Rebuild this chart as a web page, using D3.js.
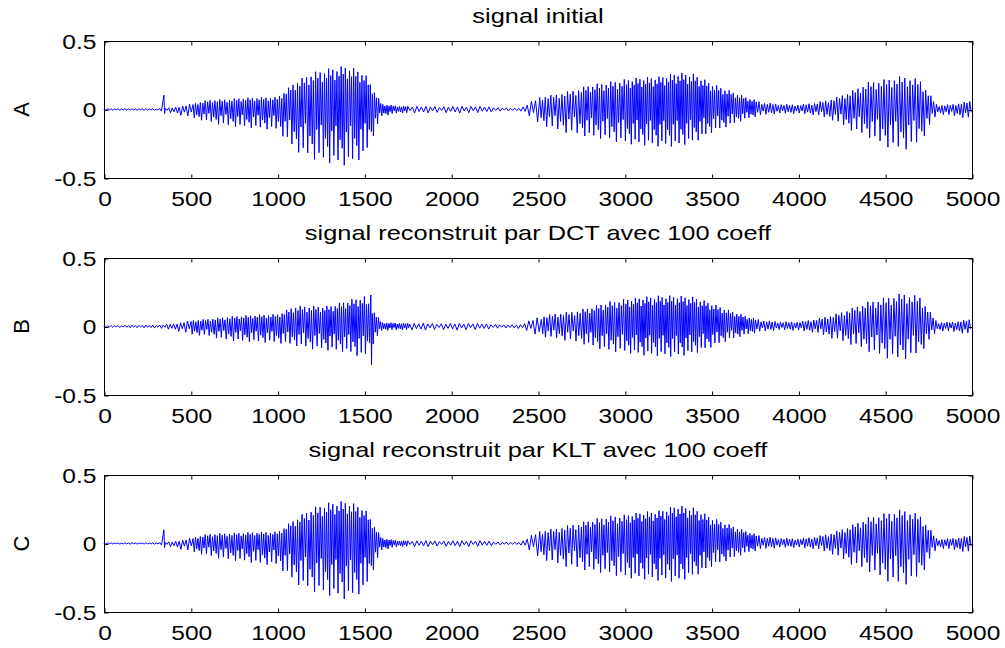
<!DOCTYPE html>
<html>
<head>
<meta charset="utf-8">
<script src="https://cdn.jsdelivr.net/npm/d3@7"></script>
<style>
  body { margin: 0; background: #fff; }
  text { font-family: "Liberation Sans", Arial, sans-serif; fill: #000; }
</style>
</head>
<body>
<div id="chart"></div>
<script>

// envelope of each signal, read every 100 samples (upper / lower extremes)
const sampleKnots = d3.range(0, 5001, 100)

const topA = [0.004, 0.006, 0.006, 0.006, 0.015, 0.04, 0.07, 0.075, 0.085, 0.09, 0.09, 0.2, 0.27, 0.3, 0.32, 0.27, 0.04, 0.025, 0.025, 0.022, 0.022, 0.025, 0.022, 0.012, 0.01, 0.09, 0.11, 0.14, 0.18, 0.2, 0.22, 0.235, 0.24, 0.27, 0.26, 0.19, 0.14, 0.09, 0.05, 0.04, 0.035, 0.05, 0.08, 0.13, 0.2, 0.22, 0.245, 0.22, 0.03, 0.04, 0.065]
const botA = [-0.004, -0.006, -0.006, -0.006, -0.03, -0.06, -0.09, -0.12, -0.13, -0.14, -0.15, -0.3, -0.36, -0.39, -0.41, -0.35, -0.05, -0.025, -0.028, -0.025, -0.025, -0.028, -0.022, -0.012, -0.01, -0.1, -0.15, -0.18, -0.2, -0.22, -0.25, -0.26, -0.27, -0.27, -0.24, -0.17, -0.12, -0.07, -0.04, -0.03, -0.03, -0.04, -0.08, -0.15, -0.2, -0.27, -0.3, -0.25, -0.03, -0.05, -0.07]

const topB = [0.006, 0.008, 0.01, 0.01, 0.02, 0.045, 0.055, 0.07, 0.08, 0.087, 0.09, 0.15, 0.15, 0.15, 0.19, 0.22, 0.03, 0.025, 0.025, 0.022, 0.022, 0.025, 0.02, 0.012, 0.015, 0.07, 0.095, 0.11, 0.14, 0.18, 0.2, 0.215, 0.225, 0.225, 0.215, 0.17, 0.12, 0.075, 0.045, 0.035, 0.035, 0.055, 0.085, 0.13, 0.18, 0.21, 0.245, 0.22, 0.03, 0.035, 0.055]
const botB = [-0.006, -0.008, -0.01, -0.012, -0.025, -0.06, -0.07, -0.1, -0.11, -0.115, -0.12, -0.14, -0.165, -0.175, -0.19, -0.23, -0.03, -0.025, -0.028, -0.025, -0.025, -0.028, -0.02, -0.012, -0.015, -0.07, -0.09, -0.11, -0.14, -0.18, -0.19, -0.21, -0.215, -0.22, -0.2, -0.15, -0.1, -0.06, -0.035, -0.025, -0.03, -0.045, -0.09, -0.13, -0.18, -0.23, -0.245, -0.2, -0.03, -0.04, -0.06]

const topC = [0.004, 0.005, 0.005, 0.005, 0.015, 0.04, 0.07, 0.075, 0.08, 0.085, 0.085, 0.18, 0.26, 0.3, 0.31, 0.26, 0.04, 0.02, 0.022, 0.02, 0.02, 0.022, 0.02, 0.01, 0.01, 0.09, 0.11, 0.14, 0.17, 0.2, 0.21, 0.23, 0.24, 0.28, 0.26, 0.19, 0.14, 0.09, 0.05, 0.04, 0.035, 0.05, 0.08, 0.13, 0.19, 0.22, 0.25, 0.21, 0.03, 0.04, 0.06]
const botC = [-0.004, -0.005, -0.005, -0.005, -0.03, -0.06, -0.09, -0.12, -0.13, -0.15, -0.16, -0.29, -0.35, -0.38, -0.41, -0.35, -0.05, -0.022, -0.025, -0.022, -0.022, -0.025, -0.02, -0.01, -0.01, -0.1, -0.15, -0.18, -0.2, -0.22, -0.25, -0.26, -0.27, -0.28, -0.24, -0.17, -0.12, -0.07, -0.04, -0.03, -0.03, -0.04, -0.08, -0.15, -0.2, -0.27, -0.31, -0.25, -0.03, -0.05, -0.07]

// isolated spikes: [sample, high, low]
const clicksA = [[345, 0.105, -0.03]]
const clicksB = [[1537, 0.23, -0.28]]
const clicksC = [[345, 0.1, -0.03]]

// samples per up/down swing, per 250-sample block
const periodKnots = d3.range(250, 5000, 250)
const cyclePeriods = [20, 20, 14, 13, 13, 12, 12, 26, 26, 24, 16, 13, 11, 11, 12, 16, 16, 15, 15, 16]
const topWeights = [1, 0.82, 0.95, 0.7, 0.9, 0.78]
const bottomWeights = [1, 0.4, 0.85, 0.3, 0.92, 0.55, 0.7]

const panelTitles = ["signal initial", "signal reconstruit par DCT avec 100 coeff", "signal reconstruit par KLT avec 100 coeff"]
const panelLabels = ["A", "B", "C"]
const xTicks = [0, 500, 1000, 1500, 2000, 2500, 3000, 3500, 4000, 4500, 5000]
const yTicks = [-0.5, 0, 0.5]

const panels = [
  { title: panelTitles[0], label: panelLabels[0], tops: topA, bots: botA, clicks: clicksA },
  { title: panelTitles[1], label: panelLabels[1], tops: topB, bots: botB, clicks: clicksB },
  { title: panelTitles[2], label: panelLabels[2], tops: topC, bots: botC, clicks: clicksC },
]

const dimensions = {
  width: 1005,
  height: 648,
  left: 104,
  right: 972,
  panelTops: [41, 258, 475],
  panelHeight: 137,
  fontSize: 21,
  stretch: 1.17,
  titleStretch: 1.21,
}

function buildSignal(tops, bots, clicks) {
  const topAt = d3.scaleLinear().domain(sampleKnots).range(tops)
  const botAt = d3.scaleLinear().domain(sampleKnots).range(bots)
  const periodAt = d3.scaleThreshold().domain(periodKnots).range(cyclePeriods)
  const pts = [[0, 0]]
  let t = 1, k = 0
  while (t < 4990) {
    const p = periodAt(t)
    const click = clicks.find(c => c[0] >= t && c[0] < t + p)
    if (click) {
      pts.push([click[0], click[1]], [click[0] + 4, click[2]])
      t = click[0] + 8
      continue
    }
    pts.push([t, topAt(t) * topWeights[k % topWeights.length]])
    pts.push([t + p / 2, botAt(t + p / 2) * bottomWeights[k % bottomWeights.length]])
    t += p
    k++
  }
  return pts
}

const svg = d3.select("#chart").append("svg")
  .attr("width", dimensions.width)
  .attr("height", dimensions.height)

const x = d3.scaleLinear().domain([0, 5000]).range([dimensions.left, dimensions.right])

panels.forEach((panel, i) => {
  const top = dimensions.panelTops[i]
  const bottom = top + dimensions.panelHeight
  const y = d3.scaleLinear().domain([-0.5, 0.5]).range([bottom, top])
  const g = svg.append("g")

  const line = d3.line()
    .x(d => x(d[0]))
    .y(d => y(d[1]))

  g.append("path")
    .attr("d", line(buildSignal(panel.tops, panel.bots, panel.clicks)))
    .attr("fill", "none")
    .attr("stroke", "#0000ff")
    .attr("stroke-width", 1)

  // box
  g.append("rect")
    .attr("x", dimensions.left + 0.5)
    .attr("y", top + 0.5)
    .attr("width", dimensions.right - dimensions.left)
    .attr("height", dimensions.panelHeight)
    .attr("fill", "none")
    .attr("stroke", "#000")
    .attr("stroke-width", 1)

  // axes, ticks inward like matlab
  const xAxis = g.append("g")
    .attr("transform", `translate(0.5,${bottom + 0.5})`)
    .call(d3.axisBottom(x).tickValues(xTicks).tickSize(-4).tickPadding(13).tickFormat(d => String(d)))
  g.append("g")
    .attr("transform", `translate(0.5,${top + 0.5})`)
    .call(d3.axisTop(x).tickValues(xTicks).tickSize(-4).tickFormat(""))
  const yAxis = g.append("g")
    .attr("transform", `translate(${dimensions.left + 0.5},0.5)`)
    .call(d3.axisLeft(y).tickValues(yTicks).tickSize(-4).tickPadding(8).tickFormat(d => String(d)))
  g.append("g")
    .attr("transform", `translate(${dimensions.right + 0.5},0.5)`)
    .call(d3.axisRight(y).tickValues(yTicks).tickSize(-4).tickFormat(""))

  g.selectAll(".domain").remove()
  g.selectAll(".tick line").attr("stroke", "#000")

  xAxis.selectAll("text")
    .attr("font-size", dimensions.fontSize)
    .attr("font-family", null)
    .attr("transform", `scale(${dimensions.stretch},1)`)
  yAxis.selectAll("text")
    .attr("font-size", dimensions.fontSize)
    .attr("font-family", null)
    .attr("x", -8 / dimensions.stretch)
    .attr("transform", `scale(${dimensions.stretch},1)`)

  // title
  g.append("text")
    .attr("transform", `translate(${(dimensions.left + dimensions.right) / 2},${top - 18}) scale(${dimensions.titleStretch},1)`)
    .attr("text-anchor", "middle")
    .attr("font-size", dimensions.fontSize)
    .text(panel.title)

  // y label
  g.append("text")
    .attr("transform", `translate(29,${(top + bottom) / 2}) rotate(-90)`)
    .attr("text-anchor", "middle")
    .attr("font-size", dimensions.fontSize + 1)
    .text(panel.label)
})

</script>
</body>
</html>
